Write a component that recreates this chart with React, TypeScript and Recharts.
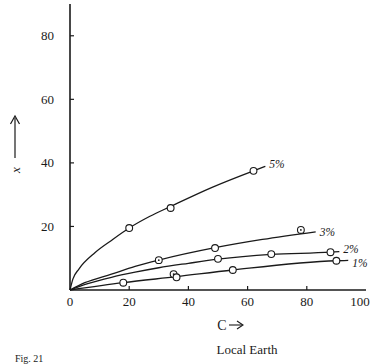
import { ComposedChart, Line, Scatter, XAxis, YAxis } from 'recharts';

// fitted curves
const curve5C = [0, 1, 3, 8.5, 14, 20, 27, 34, 48, 62, 66];
const curve5X = [0, 3.5, 6.6, 11.8, 15.6, 19.5, 23.2, 26.3, 32.3, 37.5, 38.9];
const curve3C = [0, 5, 14, 22, 30, 49, 65, 83];
const curve3X = [0, 2.3, 5.0, 7.4, 9.4, 13.3, 15.9, 18.3];
const curve2C = [0, 6, 14, 22, 30, 40, 50, 68, 88, 91];
const curve2X = [0, 2.0, 4.0, 5.6, 7.0, 8.4, 9.7, 11.2, 11.9, 12.1];
const curve1C = [0, 18, 36, 55, 90, 94];
const curve1X = [0, 2.3, 4.2, 6.3, 9.2, 9.3];

// measured points
const pts5C = [20, 34, 62];
const pts5X = [19.5, 25.8, 37.5];
const pts3C = [30, 49, 78];
const pts3X = [9.4, 13.2, 18.9];
const pts2C = [50, 68, 88];
const pts2X = [9.8, 11.3, 11.9];
const pts1C = [18, 35, 36, 55, 90];
const pts1X = [2.3, 5.0, 4.0, 6.3, 9.2];
// points drawn as a circle with a dot inside
const dotted = ['3-30', '3-78', '1-35'];

const xTicks = [0, 20, 40, 60, 80, 100];
const yTicks = [20, 40, 60, 80];
const seriesLabels = ['5%', '3%', '2%', '1%'];
const labelDy = [2, 4, 1.5, 6.5];

const toPts = (cs: number[], xs: number[], tag?: string) =>
  cs.map((c, i) => ({ c, x: xs[i], key: tag ? `${tag}-${c}` : undefined }));

const curves = [
  toPts(curve5C, curve5X),
  toPts(curve3C, curve3X),
  toPts(curve2C, curve2X),
  toPts(curve1C, curve1X),
];
const points = [
  ...toPts(pts5C, pts5X, '5'),
  ...toPts(pts3C, pts3X, '3'),
  ...toPts(pts2C, pts2X, '2'),
  ...toPts(pts1C, pts1X, '1'),
];

const FONT = '"Liberation Serif", "DejaVu Serif", serif';
const INK = '#1a1a1a';
const TM = 6;

const XTick = (props: any) => {
  const { x, y, payload } = props;
  const ay = y - TM;
  return (
    <g>
      {payload.value !== 0 && payload.value !== 100 && (
        <line x1={x} x2={x} y1={ay} y2={ay - 4} stroke={INK} strokeWidth={1.2} />
      )}
      <text x={x} y={ay + 16} textAnchor="middle" fontFamily={FONT} fontSize={13} fill={INK}>
        {payload.value}
      </text>
    </g>
  );
};

const YTick = (props: any) => {
  const { x, y, payload } = props;
  const ax = x + 16;
  return (
    <g>
      <line x1={ax} x2={ax + 4} y1={y} y2={y} stroke={INK} strokeWidth={1.2} />
      <text x={x} y={y + 4.5} textAnchor="end" fontFamily={FONT} fontSize={13} fill={INK}>
        {payload.value}
      </text>
    </g>
  );
};

const Marker = (props: any) => {
  const { cx, cy, payload } = props;
  return (
    <g>
      <circle cx={cx} cy={cy} r={3.4} fill="#fff" stroke={INK} strokeWidth={1.1} />
      {dotted.includes(payload.key) && <circle cx={cx} cy={cy} r={0.9} fill={INK} />}
    </g>
  );
};

const endLabel = (text: string, len: number, dy: number) => (p: any) =>
  p.index === len - 1 ? (
    <text
      key={text}
      x={p.x + 4}
      y={p.y + dy}
      fontFamily={FONT}
      fontStyle="italic"
      fontSize={11.5}
      fill={INK}
    >
      {text}
    </text>
  ) : null;

export default function App() {
  return (
    <div style={{ position: 'absolute', left: 0, top: 0, width: 372, height: 364, background: '#fff', overflow: 'hidden' }}>
      <ComposedChart width={372} height={364} margin={{ top: 4, right: 6, left: 10, bottom: 44 }}>
        <XAxis
          type="number"
          dataKey="c"
          domain={[0, 100]}
          ticks={xTicks}
          tickSize={0}
          tickMargin={TM}
          tick={<XTick />}
          height={30}
          axisLine={{ stroke: INK, strokeWidth: 1.6 }}
          allowDuplicatedCategory={false}
        />
        <YAxis
          type="number"
          dataKey="x"
          domain={[0, 90]}
          ticks={yTicks}
          tickSize={0}
          tickMargin={16}
          tick={<YTick />}
          width={60}
          axisLine={{ stroke: INK, strokeWidth: 1.6 }}
        />
        {curves.map((d, i) => (
          <Line
            key={seriesLabels[i]}
            data={d}
            dataKey="x"
            type="monotone"
            stroke={INK}
            strokeWidth={1.3}
            dot={false}
            isAnimationActive={false}
            label={endLabel(seriesLabels[i], d.length, labelDy[i])}
          />
        ))}
        <Scatter data={points} dataKey="x" shape={<Marker />} isAnimationActive={false} />
      </ComposedChart>

      <svg style={{ position: 'absolute', left: 0, top: 0 }} width={372} height={364}>
        {/* y axis label: x with upward arrow */}
        <line x1={15} x2={15} y1={158} y2={118} stroke={INK} strokeWidth={1.2} />
        <path d="M10.5,124 L15,116 L19.5,124" fill="none" stroke={INK} strokeWidth={1.2} />
        <text
          x={15}
          y={170}
          transform="rotate(-90 15 170)"
          textAnchor="middle"
          dominantBaseline="central"
          fontFamily={FONT}
          fontStyle="italic"
          fontSize={13}
          fill={INK}
        >
          x
        </text>
        {/* x axis label: C with right arrow */}
        <text x={222} y={330} textAnchor="middle" fontFamily={FONT} fontSize={14} fill={INK}>
          C
        </text>
        <line x1={229} x2={242} y1={325} y2={325} stroke={INK} strokeWidth={1.1} />
        <path d="M237,321 L243,325 L237,329" fill="none" stroke={INK} strokeWidth={1.1} />
        <text x={247} y={354} textAnchor="middle" fontFamily={FONT} fontSize={13} fill={INK}>
          Local Earth
        </text>
        <text x={15} y={362} fontFamily={FONT} fontSize={10} fill={INK}>
          Fig. 21
        </text>
      </svg>
    </div>
  );
}
